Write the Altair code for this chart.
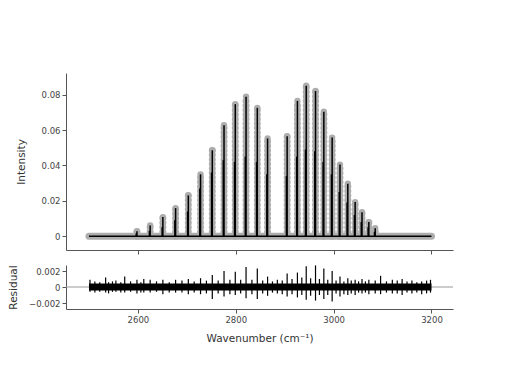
import altair as alt
import pandas as pd

# Peak positions (cm^-1) and heights
peak_pos = [2598, 2625, 2651, 2677, 2703, 2728, 2752, 2776, 2799, 2821, 2844, 2865,
            2905, 2926, 2944, 2963, 2980, 2997, 3013, 3029, 3044, 3058, 3072, 3085]
peak_h = [0.0028, 0.0061, 0.0108, 0.0159, 0.0231, 0.0350, 0.0486, 0.0628, 0.0747, 0.0789,
          0.0726, 0.0553, 0.0566, 0.0765, 0.0851, 0.0821, 0.0704, 0.0558, 0.0405, 0.0297,
          0.0193, 0.0136, 0.0080, 0.0045]
# secondary (isotope) line heights, read from the thicker lower part of each line
iso_h = [0.0015, 0.0030, 0.0050, 0.0090, 0.0140, 0.0270, 0.0360, 0.0430, 0.0420, 0.0450,
         0.0420, 0.0350, 0.0340, 0.0450, 0.0490, 0.0480, 0.0420, 0.0350, 0.0250, 0.0190,
         0.0120, 0.0080, 0.0050, 0.0025]

x_start, x_end = 2500, 3200

# Residual spikes
res_x = [2502, 2512, 2522, 2534, 2540, 2548, 2555, 2565, 2573, 2585, 2598, 2606, 2612, 2625,
         2638, 2651, 2664, 2677, 2690, 2703, 2715, 2728, 2740, 2752, 2764, 2776, 2788, 2799,
         2810, 2821, 2833, 2844, 2855, 2865, 2875, 2885, 2895, 2905, 2915, 2926, 2935, 2944,
         2953, 2963, 2971, 2980, 2988, 2997, 3005, 3013, 3021, 3029, 3036, 3044, 3051, 3058,
         3065, 3072, 3085, 3096, 3108, 3120, 3130, 3140, 3150, 3160, 3170, 3180, 3190, 3198]
res_hi = [0.0009, 0.0007, 0.0006, 0.0012, 0.0006, 0.0007, 0.0008, 0.0006, 0.0013, 0.0007,
          0.0009, 0.0006, 0.0010, 0.0009, 0.0007, 0.0009, 0.0006, 0.0009, 0.0008, 0.0010,
          0.0007, 0.0011, 0.0008, 0.0015, 0.0008, 0.0020, 0.0009, 0.0019, 0.0009, 0.0025,
          0.0009, 0.0023, 0.0008, 0.0013, 0.0007, 0.0009, 0.0008, 0.0017, 0.0010, 0.0018,
          0.0012, 0.0026, 0.0011, 0.0027, 0.0010, 0.0023, 0.0009, 0.0020, 0.0008, 0.0013,
          0.0007, 0.0011, 0.0008, 0.0009, 0.0007, 0.0010, 0.0007, 0.0009, 0.0008, 0.0014,
          0.0007, 0.0009, 0.0008, 0.0010, 0.0007, 0.0008, 0.0006, 0.0007, 0.0008, 0.0009]
res_lo = [-0.0006, -0.0007, -0.0006, -0.0007, -0.0008, -0.0006, -0.0006, -0.0007, -0.0007,
          -0.0006, -0.0008, -0.0007, -0.0007, -0.0007, -0.0006, -0.0009, -0.0007, -0.0007,
          -0.0007, -0.0009, -0.0007, -0.0009, -0.0008, -0.0015, -0.0008, -0.0012, -0.0009,
          -0.0010, -0.0008, -0.0014, -0.0009, -0.0015, -0.0008, -0.0011, -0.0007, -0.0008,
          -0.0009, -0.0012, -0.0009, -0.0013, -0.0010, -0.0016, -0.0011, -0.0017, -0.0010,
          -0.0015, -0.0010, -0.0018, -0.0008, -0.0012, -0.0009, -0.0010, -0.0008, -0.0010,
          -0.0007, -0.0008, -0.0007, -0.0009, -0.0008, -0.0009, -0.0007, -0.0008, -0.0008,
          -0.0010, -0.0007, -0.0008, -0.0007, -0.0009, -0.0008, -0.0007]
noise_hi = 0.00045
noise_lo = -0.00045

peaks = pd.DataFrame({"x": peak_pos, "h": peak_h, "iso": iso_h,
                      "xi": [p - 1.5 for p in peak_pos], "zero": [0.0] * len(peak_pos)})
base = pd.DataFrame({"x": [x_start], "x2": [x_end], "y": [0.0]})
res = pd.DataFrame({"x": res_x, "hi": res_hi, "lo": res_lo})
band = pd.DataFrame({"x": [x_start, x_end], "hi": [noise_hi, noise_hi], "lo": [noise_lo, noise_lo]})

FONT = "DejaVu Sans"
xdom = [2453, 3244]
xscale = alt.Scale(domain=xdom, nice=False, zero=False)
grey = "#adadad"

x_top = alt.X("x:Q", scale=xscale, axis=alt.Axis(labels=False, title=None, values=[2600, 2800, 3000, 3200]))
y_top = alt.Y("zero:Q", scale=alt.Scale(domain=[-0.0078, 0.0923], nice=False),
              axis=alt.Axis(values=[0, 0.02, 0.04, 0.06, 0.08], format="~g", title="Intensity",
                            titlePadding=15))

grey_base = alt.Chart(base).mark_rule(color=grey, strokeWidth=7, strokeCap="round").encode(
    x=alt.X("x:Q", scale=xscale), x2="x2:Q", y=alt.Y("y:Q"))
grey_peaks = alt.Chart(peaks).mark_rule(color=grey, strokeWidth=7, strokeCap="round",
                                         strokeDash=[0.01, 4.5]).encode(x=x_top, y=y_top, y2="h:Q")
grey_peaks2 = alt.Chart(peaks).mark_rule(color=grey, strokeWidth=4).encode(x=x_top, y=y_top, y2="h:Q")
grey_tops = alt.Chart(peaks).mark_circle(color=grey, size=40, opacity=1).encode(x=x_top, y=alt.Y("h:Q"))
black_base = alt.Chart(base).mark_rule(color="black", strokeWidth=1.5).encode(
    x=alt.X("x:Q", scale=xscale), x2="x2:Q", y=alt.Y("y:Q"))
black_peaks = alt.Chart(peaks).mark_rule(color="black", strokeWidth=1.5).encode(x=x_top, y=y_top, y2="h:Q")
black_iso = alt.Chart(peaks).mark_rule(color="black", strokeWidth=1.5).encode(
    x=alt.X("xi:Q", scale=xscale), y=y_top, y2="iso:Q")

top = alt.layer(grey_base, grey_peaks2, grey_peaks, grey_tops, black_base, black_peaks, black_iso).properties(
    width=387, height=177)

x_bot = alt.X("x:Q", scale=xscale, axis=alt.Axis(values=[2600, 2800, 3000, 3200], format="d",
                                                  title="Wavenumber (cm⁻¹)"))
yres = alt.Scale(domain=[-0.00275, 0.00275], nice=False)
yres_axis = alt.Axis(values=[-0.002, 0, 0.002], title="Residual", labelOverlap=False, titlePadding=10,
                     labelExpr="datum.value == 0 ? '0' : replace(format(datum.value, '.3f'), '-', '\u2212')")
res_zero = pd.DataFrame({"x": [xdom[0]], "x2": [xdom[1]], "hi": [0.0]})
zero_line = alt.Chart(res_zero).mark_rule(color="#999999", strokeWidth=1).encode(
    x=x_bot, x2="x2:Q", y=alt.Y("hi:Q", scale=yres, axis=yres_axis))
band_m = alt.Chart(band).mark_area(color="black").encode(
    x=x_bot, y=alt.Y("hi:Q", scale=yres, axis=yres_axis), y2="lo:Q")
spikes = alt.Chart(res).mark_rule(color="black", strokeWidth=1.2).encode(
    x=x_bot, y=alt.Y("hi:Q", scale=yres, axis=yres_axis), y2="lo:Q")
bottom = alt.layer(zero_line, band_m, spikes).properties(width=387, height=44)

chart = alt.vconcat(top, bottom, spacing=9).properties(
    padding={"left": 0, "top": 65, "right": 5, "bottom": 5}
).configure_view(stroke=None).configure_axis(
    grid=False, domainColor="#555555", tickColor="#555555", tickSize=4,
    labelFont=FONT, titleFont=FONT, labelFontSize=8.5, titleFontSize=10.5,
    labelColor="#444444", titleColor="#333333", titleFontWeight="normal", labelPadding=2
).configure_axisX(titlePadding=10)

chart.save("out.html", embed_options={"renderer": "svg", "actions": False})
